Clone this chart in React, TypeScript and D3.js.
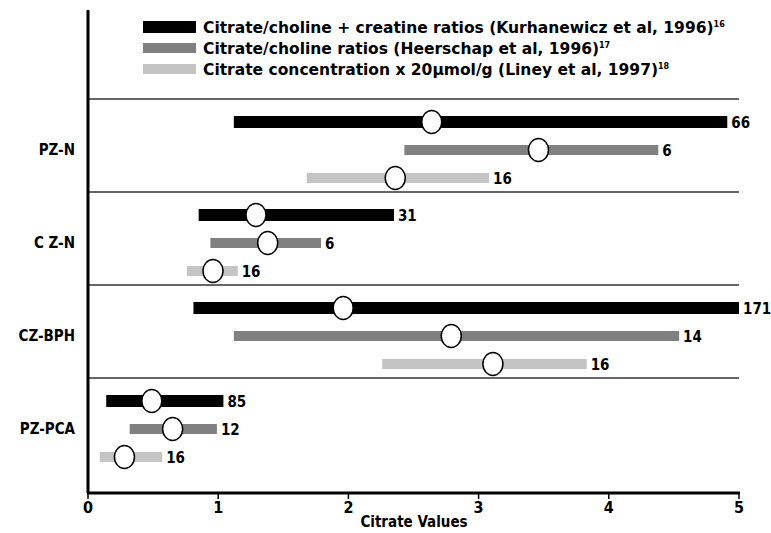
import React from 'react';
import * as d3 from 'd3';

const W = 771;
const H = 533;

const categories = ['PZ-N', 'C Z-N', 'CZ-BPH', 'PZ-PCA'];
const series = [
  'Citrate/choline + creatine ratios (Kurhanewicz et al, 1996)',
  'Citrate/choline ratios (Heerschap et al, 1996)',
  'Citrate concentration x 20\u00b5mol/g (Liney et al, 1997)',
];
const seriesRefs = ['16', '17', '18'];
const colors = ['#000000', '#808080', '#c4c4c4'];

// low end, high end and mean per category, one array per series
const rangeLow = [
  [1.12, 0.85, 0.81, 0.14],
  [2.43, 0.94, 1.12, 0.32],
  [1.68, 0.76, 2.26, 0.09],
];
const rangeHigh = [
  [4.91, 2.35, 5.0, 1.04],
  [4.38, 1.79, 4.54, 0.99],
  [3.08, 1.15, 3.83, 0.57],
];
const means = [
  [2.64, 1.29, 1.96, 0.49],
  [3.46, 1.38, 2.79, 0.65],
  [2.36, 0.96, 3.11, 0.28],
];
const counts = [
  [66, 31, 171, 85],
  [6, 6, 14, 12],
  [16, 16, 16, 16],
];
const xTicks = [0, 1, 2, 3, 4, 5];

const FONT = '"DejaVu Sans Condensed", "Liberation Sans Narrow", sans-serif';
const LEGEND_FONT = '"DejaVu Sans", sans-serif';

export default function App() {
  const x = d3.scaleLinear().domain([0, 5]).range([88, 739]);
  const yCat = d3.scaleBand().domain(categories).range([99, 471]).paddingInner(0);
  const yRow = d3.scalePoint().domain(series).range([23, 79]);
  const axisY = 493;
  const barH = [12, 10, 10];

  return (
    <svg width={W} height={H} style={{ position: 'absolute', left: 0, top: 0, background: '#fff' }}>
      {/* legend */}
      {series.map((s, i) => (
        <g key={s} transform={`translate(143, ${27 + i * 21})`}>
          <rect x={0} y={-barH[i] / 2} width={53} height={barH[i]} fill={colors[i]} />
          <text x={60} y={5.5} fontFamily={LEGEND_FONT} fontWeight="bold" fontSize={15.5}>
            {s}
            <tspan fontSize={8} dy={-6}>{seriesRefs[i]}</tspan>
          </text>
        </g>
      ))}

      {/* separators */}
      {categories.map(c => (
        <line key={c} x1={88} x2={739} y1={yCat(c)} y2={yCat(c)} stroke="#333" strokeWidth={1.5} />
      ))}

      {/* bars */}
      {categories.map((c, ci) => {
        const top = yCat(c) as number;
        return (
          <g key={c}>
            <text x={75} y={top + yRow(series[1])! + 5} textAnchor="end" fontFamily={FONT}
              fontWeight="bold" fontSize={15}>{c}</text>
            {series.map((s, si) => {
              const cy = top + (yRow(s) as number);
              const x0 = x(rangeLow[si][ci]);
              const x1 = x(rangeHigh[si][ci]);
              return (
                <g key={s}>
                  <rect x={x0} y={cy - barH[si] / 2} width={x1 - x0} height={barH[si]} fill={colors[si]} />
                  <ellipse cx={x(means[si][ci])} cy={cy} rx={10} ry={11.5} fill="#fff" stroke="#000" strokeWidth={1.5} />
                  <text x={x1 + 4} y={cy + 5.5} fontFamily={FONT} fontWeight="bold" fontSize={15}>
                    {counts[si][ci]}
                  </text>
                </g>
              );
            })}
          </g>
        );
      })}

      {/* axes */}
      <line x1={88} x2={88} y1={10} y2={axisY} stroke="#000" strokeWidth={3} />
      <line x1={87} x2={740} y1={axisY} y2={axisY} stroke="#000" strokeWidth={3} />
      {xTicks.map(t => (
        <g key={t} transform={`translate(${x(t)}, ${axisY})`}>
          <line y1={0} y2={6} stroke="#000" strokeWidth={1.5} />
          <text y={20} textAnchor="middle" fontFamily={FONT} fontWeight="bold" fontSize={16}>{t}</text>
        </g>
      ))}
      <text x={414} y={527} textAnchor="middle" fontFamily={FONT} fontWeight="bold" fontSize={15}>
        Citrate Values
      </text>
    </svg>
  );
}
